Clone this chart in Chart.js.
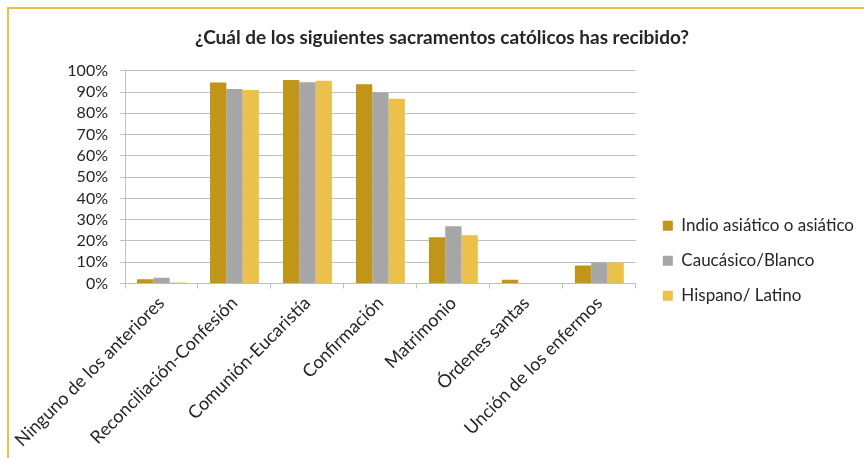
<!DOCTYPE html>
<html>
<head>
<meta charset="utf-8">
<script src="https://cdn.jsdelivr.net/npm/chart.js@4/dist/chart.umd.min.js"></script>
<style>
  body { margin: 0; background: #fff; }
  .frame {
    position: absolute;
    left: 7px;
    top: 7px;
    width: 870px;
    height: 460px;
    border-top: 2px solid #EBC04A;
    border-left: 2px solid #EBC04A;
  }
  canvas { position: absolute; left: 0; top: 0; }
</style>
</head>
<body>
<div class="frame"></div>
<canvas id="chart" width="864" height="458"></canvas>
<script>
const categories = [
  'Ninguno de los anteriores',
  'Reconciliación-Confesión',
  'Comunión-Eucaristía',
  'Confirmación',
  'Matrimonio',
  'Órdenes santas',
  'Unción de los enfermos'
];
const seriesNames = ['Indio asiático o asiático', 'Caucásico/Blanco', 'Hispano/ Latino'];
const indioValues = [2.0, 94.5, 95.7, 93.7, 21.7, 1.7, 8.5];
const caucasicoValues = [2.7, 91.5, 94.6, 89.8, 26.9, 0, 9.9];
const hispanoValues = [0.5, 91.0, 95.3, 86.8, 22.7, 0.2, 9.9];
const colors = ['#C0951A', '#A6A6A6', '#ECC14B'];

const font = 'Lato, "Open Sans", sans-serif';
const textColor = '#262626';

// let the legend keep its full width (layout caps side boxes otherwise)
const wideLegend = {
  id: 'wideLegend',
  afterInit(chart) {
    const legend = chart.legend;
    const update = legend.update.bind(legend);
    legend.update = (maxWidth, maxHeight, margins) => update(260, maxHeight, margins);
  }
};

new Chart(document.getElementById('chart').getContext('2d'), {
  type: 'bar',
  data: {
    labels: categories,
    datasets: [indioValues, caucasicoValues, hispanoValues].map((vals, i) => ({
      label: seriesNames[i],
      data: vals,
      backgroundColor: colors[i],
      categoryPercentage: 0.67,
      barPercentage: 1
    }))
  },
  plugins: [wideLegend],
  options: {
    responsive: false,
    animation: false,
    layout: { padding: { left: 20, right: 0, top: 0, bottom: 3 } },
    scales: {
      y: {
        min: 0,
        max: 100,
        afterFit: scale => { scale.width = 105; },
        ticks: {
          stepSize: 10,
          autoSkip: false,
          padding: 12,
          color: textColor,
          font: { family: font, size: 16 },
          callback: v => v + '%'
        },
        grid: { color: '#BFBFBF', tickLength: 5 },
        border: { color: '#BFBFBF' }
      },
      // empty gap between the plot and the legend
      gap: {
        position: 'right',
        display: true,
        afterFit: scale => { scale.width = 9; },
        ticks: { display: false },
        grid: { display: false },
        border: { display: false }
      },
      x: {
        ticks: {
          minRotation: 45,
          maxRotation: 45,
          padding: 4,
          color: textColor,
          font: { family: font, size: 18 }
        },
        grid: { drawOnChartArea: false, offset: true, color: '#BFBFBF', tickLength: 5 },
        border: { color: '#BFBFBF' }
      }
    },
    plugins: {
      title: {
        display: true,
        text: '¿Cuál de los siguientes sacramentos católicos has recibido?',
        color: textColor,
        font: { family: font, size: 19, weight: 'bold' },
        padding: { top: 26, bottom: 22 }
      },
      legend: {
        position: 'right',
        title: { display: true, text: '', padding: { top: 26, bottom: 26 } },
        labels: {
          boxWidth: 10,
          boxHeight: 10,
          padding: 18,
          color: textColor,
          font: { family: font, size: 17 }
        }
      },
      tooltip: { enabled: false }
    }
  }
});
</script>
</body>
</html>
